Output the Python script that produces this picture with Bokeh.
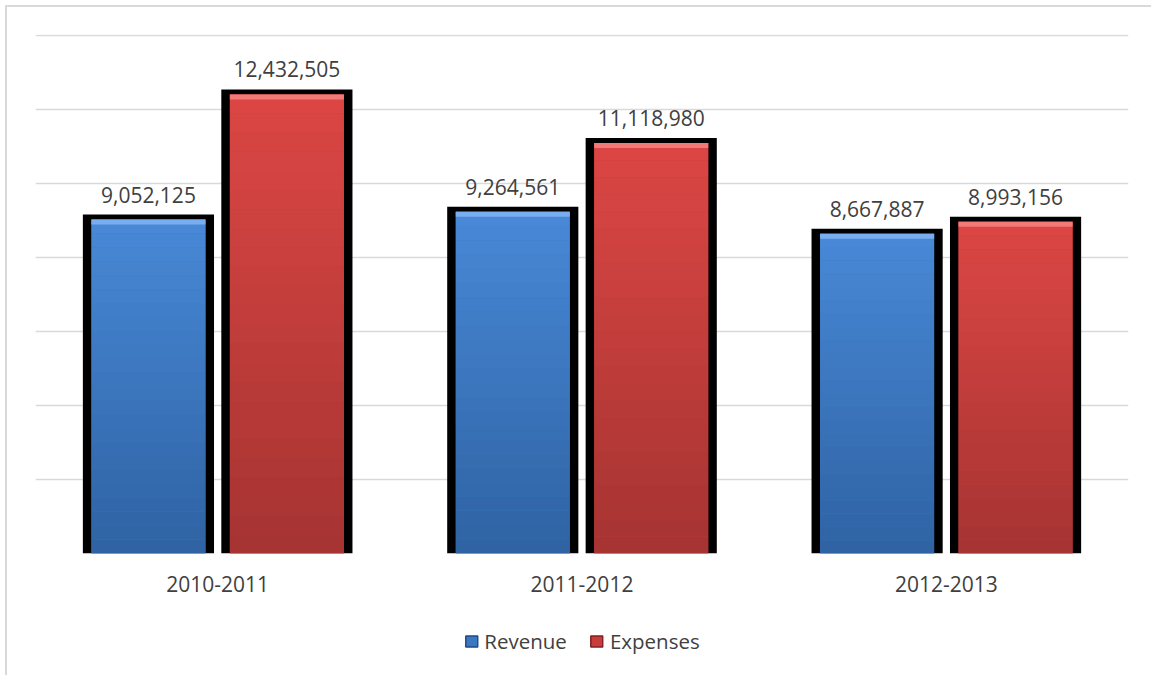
import numpy as np
from bokeh.plotting import figure
from bokeh.layouts import column
from bokeh.models import (ColumnDataSource, Range1d, FactorRange, SingleIntervalTicker,
                          LabelSet, Legend, LegendItem)
from bokeh.core.properties import value
from bokeh.transform import dodge
from bokeh.embed import file_html
from bokeh.resources import INLINE

# ---- data ----
categories = ["2010-2011", "2011-2012", "2012-2013"]
revenue = [9052125, 9264561, 8667887]
expenses = [12432505, 11118980, 8993156]
series_names = ["Revenue", "Expenses"]
y_max = 14000000
y_interval = 2000000

# ---- style ----
FONT = "Open Sans"
TXT = "#404040"
OFF = 5   # outer margin
BW = 2    # border width
FIG_W = 1151 - OFF - BW
FRAME_H = 518
px = y_max / FRAME_H  # data units per pixel

series_cfg = [
    ("Revenue", revenue, -0.19, (72, 136, 214), (47, 99, 164), "#78aef0", "#3a78c4", "#1f4a80"),
    ("Expenses", expenses, 0.19, (219, 70, 68), (166, 52, 50), "#f07a78", "#c83c3a", "#7e2020"),
]
OUTER_W = 0.36
INNER_W = 0.313

MAIN_H = 600
p = figure(x_range=FactorRange(*categories), y_range=Range1d(0, y_max + px),
           width=FIG_W, height=MAIN_H, output_backend="svg", toolbar_location=None,
           min_border_left=35 - OFF - BW, min_border_right=23, min_border_top=34 - OFF - BW,
           min_border_bottom=MAIN_H - (553 - OFF - BW), outline_line_color=None)

p.yaxis.visible = False
p.ygrid.ticker = SingleIntervalTicker(interval=y_interval)
p.ygrid.grid_line_color = "#d9d9d9"
p.ygrid.grid_line_width = 1.5
p.xgrid.visible = False
p.x_range.range_padding = 0

ax = p.xaxis[0]
ax.axis_line_color = None
ax.major_tick_line_color = None
ax.minor_tick_line_color = None
ax.major_tick_out = 0
ax.major_label_standoff = 22
ax.major_label_text_font = FONT
ax.major_label_text_font_size = "21px"
ax.major_label_text_color = TXT

# legend figure
p2 = figure(x_range=FactorRange(*categories), y_range=Range1d(0, 1),
            width=FIG_W, height=675 - OFF - BW - MAIN_H, output_backend="svg",
            toolbar_location=None, x_axis_type=None, y_axis_type=None,
            min_border=0, outline_line_color=None)
p2.xgrid.visible = False
p2.ygrid.visible = False

legend_items = []
for name, vals, off, ctop, cbot, bevel, mid, edge in series_cfg:
    src = ColumnDataSource(dict(cat=categories,
                                outer=[v + 4 * px for v in vals],
                                inner=[v - 1 * px for v in vals],
                                lbl=[f"{v:,}" for v in vals]))
    xd = dodge("cat", off, range=p.x_range)
    p.vbar(x=xd, top="outer", width=OUTER_W, source=src, fill_color="black", line_color=None)
    p.vbar(x=xd, top="inner", width=INNER_W, source=src, fill_color=mid, line_color=None)
    N = 24
    cats, bots, tops, cols = [], [], [], []
    for c, v in zip(categories, vals):
        it = v - 1 * px
        for i in range(N):
            t = i / (N - 1)
            col = tuple(int(round(cbot[k] + (ctop[k] - cbot[k]) * t)) for k in range(3))
            cats.append(c)
            bots.append(it * i / N)
            tops.append(it * (i + 1) / N)
            cols.append("#%02x%02x%02x" % col)
    gsrc = ColumnDataSource(dict(cat=cats, b=bots, t=tops, c=cols))
    p.vbar(x=dodge("cat", off, range=p.x_range), bottom="b", top="t", width=INNER_W,
           source=gsrc, fill_color="c", line_color=None)
    bsrc = ColumnDataSource(dict(cat=categories, b=[v - 6 * px for v in vals],
                                 t=[v - 1 * px for v in vals]))
    p.vbar(x=dodge("cat", off, range=p.x_range), bottom="b", top="t", width=INNER_W,
           source=bsrc, fill_color=bevel, line_color=None)
    lab = LabelSet(x=xd, y="outer", text="lbl", source=src, text_align="center",
                   text_baseline="alphabetic", y_offset=12, text_font=value(FONT),
                   text_font_size=value("21px"), text_color=value(TXT))
    p.add_layout(lab)
    # legend proxy renderer (hidden, same data)
    r = p2.vbar(x="cat", top="inner", width=0.3, source=src, fill_color=mid,
                line_color=edge, line_width=1.5, visible=False)
    legend_items.append(LegendItem(label=name, renderers=[r]))

legend = Legend(items=legend_items, orientation="horizontal", location="center",
                label_text_font=FONT, label_text_font_size="20.5px", label_text_color=TXT,
                glyph_width=15, glyph_height=14, label_standoff=6, spacing=22,
                padding=2, margin=0, border_line_color=None, background_fill_alpha=0,
                click_policy="none", inactive_fill_alpha=0)
p2.add_layout(legend, "center")

layout = column(p, p2, spacing=0)
layout.margin = (OFF, 0, 0, OFF)
layout.styles = {"border-left": "2px solid #d9d9d9", "border-top": "2px solid #d9d9d9"}

open("out.html", "w").write(file_html(layout, INLINE))
